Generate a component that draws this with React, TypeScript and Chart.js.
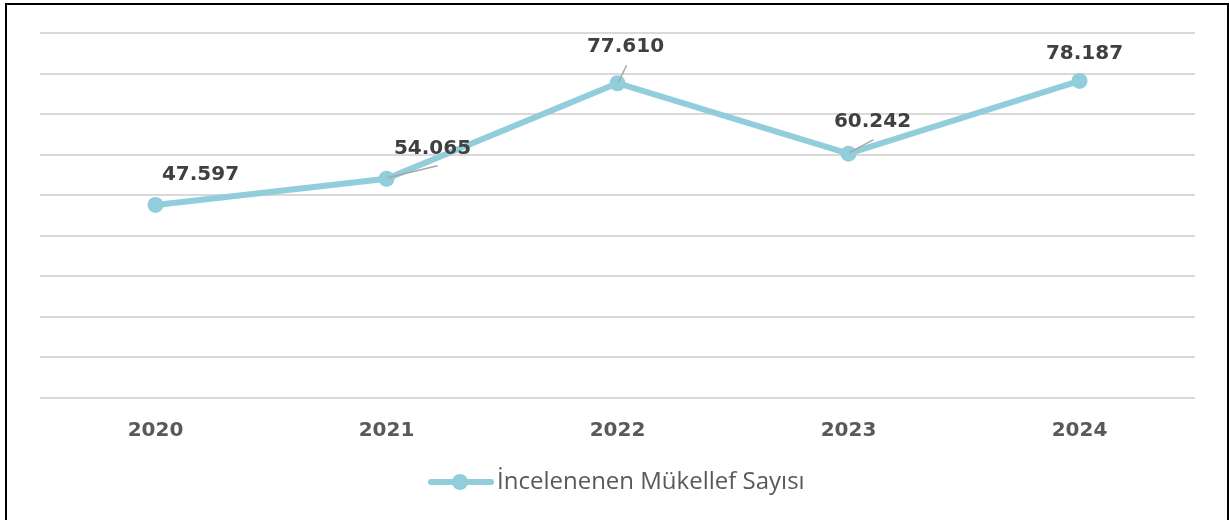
import React, { useEffect, useRef } from 'react';
import { Chart, registerables } from 'chart.js';

Chart.register(...registerables);

// ---- data ----
const years: string[] = ['2020', '2021', '2022', '2023', '2024'];
const taxpayers: number[] = [47597, 54065, 77610, 60242, 78187];
const seriesName = 'İncelenenen Mükellef Sayısı';
const yMin = 0;
const yMax = 90000;
const yStep = 10000;

// ---- label placement (offsets from each point, in px) ----
const labelOffsets: [number, number][] = [[45, -30], [46, -30], [8, -36], [24, -32], [5, -27]];
const leaderEnds: ([number, number] | null)[] = [null, [51, -13], [9, -18], [25, -14], null];

const LINE_COLOR = '#92cddc';

const fmt = (v: number) => String(v).replace(/\B(?=(\d{3})+(?!\d))/g, '.');

const labelsPlugin = {
  id: 'valueLabels',
  afterDatasetsDraw(chart: any) {
    const ctx = chart.ctx;
    const meta = chart.getDatasetMeta(0);
    ctx.save();
    ctx.strokeStyle = '#a6a6a6';
    ctx.lineWidth = 1.5;
    meta.data.forEach((pt: any, i: number) => {
      const le = leaderEnds[i];
      if (!le) return;
      ctx.beginPath();
      ctx.moveTo(pt.x + 1, pt.y - 1);
      ctx.lineTo(pt.x + le[0], pt.y + le[1]);
      ctx.stroke();
    });
    ctx.fillStyle = '#404040';
    ctx.font = 'bold 20px "DejaVu Sans"';
    ctx.textAlign = 'center';
    ctx.textBaseline = 'middle';
    meta.data.forEach((pt: any, i: number) => {
      const [dx, dy] = labelOffsets[i];
      ctx.fillText(fmt(taxpayers[i]), pt.x + dx, pt.y + dy);
    });
    ctx.restore();
  },
};

const legendPlugin = {
  id: 'customLegend',
  afterDraw(chart: any) {
    const ctx = chart.ctx;
    const y = 482;
    ctx.save();
    ctx.strokeStyle = LINE_COLOR;
    ctx.lineWidth = 6;
    ctx.lineCap = 'round';
    ctx.beginPath();
    ctx.moveTo(431, y);
    ctx.lineTo(491, y);
    ctx.stroke();
    ctx.fillStyle = LINE_COLOR;
    ctx.beginPath();
    ctx.arc(460, y, 8, 0, Math.PI * 2);
    ctx.fill();
    ctx.fillStyle = '#595959';
    ctx.font = '24px "Open Sans"';
    ctx.textAlign = 'left';
    ctx.textBaseline = 'middle';
    ctx.fillText(seriesName, 497, y);
    ctx.restore();
  },
};

export default function App() {
  const ref = useRef<HTMLCanvasElement | null>(null);
  useEffect(() => {
    if (!ref.current) return;
    const chart = new Chart(ref.current, {
      type: 'line',
      data: {
        labels: years,
        datasets: [
          {
            label: seriesName,
            data: taxpayers,
            borderColor: LINE_COLOR,
            backgroundColor: LINE_COLOR,
            borderWidth: 6,
            pointRadius: 8,
            pointBorderWidth: 0,
            pointBackgroundColor: LINE_COLOR,
            tension: 0,
          },
        ],
      },
      options: {
        animation: false,
        responsive: false,
        maintainAspectRatio: false,
        layout: { padding: { left: 40, right: 34, top: 33, bottom: 56 } },
        plugins: { legend: { display: false }, tooltip: { enabled: false } },
        scales: {
          x: {
            offset: true,
            grid: { display: false, drawTicks: false },
            border: { display: false },
            ticks: {
              color: '#595959',
              font: { family: '"DejaVu Sans"', size: 20, weight: 'bold' },
              padding: 21,
            },
          },
          y: {
            min: yMin,
            max: yMax,
            ticks: { display: false, stepSize: yStep },
            grid: { color: '#d9d9d9', lineWidth: 2, drawTicks: false },
            border: { display: false },
          },
        },
      },
      plugins: [labelsPlugin, legendPlugin],
    });
    return () => chart.destroy();
  }, []);

  return (
    <div style={{ position: 'fixed', left: 0, top: 0, width: 1229, height: 520, background: '#fff', overflow: 'hidden' }}>
      <canvas ref={ref} width={1229} height={520} style={{ position: 'absolute', left: 0, top: 0, width: 1229, height: 520 }} />
      <div
        style={{
          position: 'absolute',
          left: 5,
          top: 3,
          width: 1224,
          height: 540,
          border: '2px solid #000',
          boxSizing: 'border-box',
          pointerEvents: 'none',
        }}
      />
    </div>
  );
}
